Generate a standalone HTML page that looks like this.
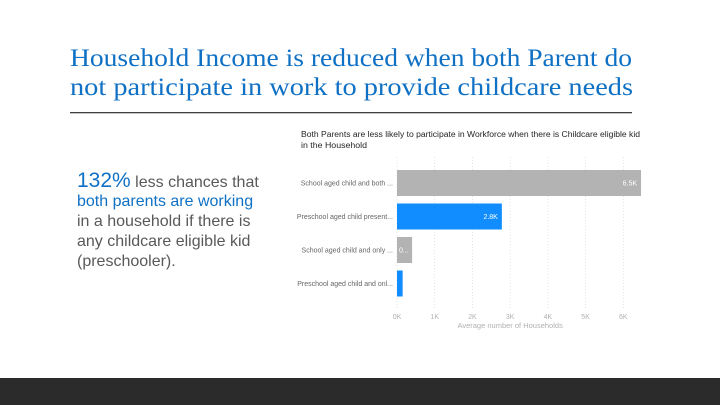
<!DOCTYPE html>
<html><head><meta charset="utf-8"><style>
html,body{margin:0;padding:0;background:#fff}
svg{display:block}
text{font-family:"Liberation Sans",sans-serif}
</style></head><body>
<svg id="s" width="720" height="405" viewBox="0 0 720 405">
<rect x="0" y="0" width="720" height="405" fill="#fff"/>
<g fill="#1071c4" font-size="25">
<text x="70" y="66" textLength="562" lengthAdjust="spacingAndGlyphs" style="font-family:'Liberation Serif',serif">Household Income is reduced when both Parent do</text>
<text x="70" y="95" textLength="563" lengthAdjust="spacingAndGlyphs" style="font-family:'Liberation Serif',serif">not participate in work to provide childcare needs</text>
</g>
<rect x="70" y="112" width="562" height="1.3" fill="#404040"/>
<g font-size="16" fill="#595959">
<text x="77" y="187"><tspan fill="#1071c4" font-size="21">132%</tspan> less chances that</text>
<text x="77" y="206" fill="#1071c4">both parents are working</text>
<text x="77" y="226">in a household if there is</text>
<text x="77" y="246">any childcare eligible kid</text>
<text x="77" y="266">(preschooler).</text>
</g>
<g font-size="8" fill="#252423">
<text x="301" y="137" textLength="339" lengthAdjust="spacingAndGlyphs">Both Parents are less likely to participate in Workforce when there is Childcare eligible kid</text>
<text x="301" y="148" textLength="66" lengthAdjust="spacingAndGlyphs">in the Household</text>
</g>
<g id="chart"></g>
<rect x="0" y="378" width="720" height="27" fill="#2b2b2b"/>
</svg>
<script>
const categories=["School aged child and both ...","Preschool aged child present...","School aged child and only ...","Preschool aged child and onl..."];
const values=[6.47,2.78,0.4,0.15];
const valueLabels=["6.5K","2.8K","0...",""];
const barColors=["#b3b3b3","#118dff","#b3b3b3","#118dff"];
const ticks=[0,1,2,3,4,5,6];
const tickLabels=["0K","1K","2K","3K","4K","5K","6K"];
const NS="http://www.w3.org/2000/svg";
const g=document.getElementById('chart');
const x0=397,x1=623.3,kmax=6;
const xs=v=>x0+(x1-x0)*v/kmax;
const bandTop=170,bandStep=33.5,barH=26;
const ys=i=>bandTop+i*bandStep;
function mk(t,a){const e=document.createElementNS(NS,t);for(const k in a)e.setAttribute(k,a[k]);g.appendChild(e);return e;}
ticks.forEach((t,i)=>{
 const l=mk('line',{x1:xs(t),x2:xs(t),y1:157,y2:310,stroke:'#dcdcdc','stroke-width':0.8,'stroke-dasharray':'1,2'});
 
 
 const tx=mk('text',{x:xs(t),y:319,'font-size':7,fill:'#b0b0b0','text-anchor':'middle'});
 tx.textContent=tickLabels[i];
 
 
});
categories.forEach((c,i)=>{
 const r=mk('rect',{x:x0,y:ys(i),width:xs(values[i])-x0,height:barH,fill:barColors[i]});
 
 
 const lb=mk('text',{x:393,y:ys(i)+barH/2+2.5,'font-size':7,fill:'#666','text-anchor':'end'});
 lb.textContent=c;
 
 
 if(valueLabels[i]){
  const big=xs(values[i])-x0>30;
  const v=mk('text',{x:big?xs(values[i])-4:x0+2,y:ys(i)+barH/2+2.5,'font-size':7,fill:'#fff','text-anchor':big?'end':'start'});
  v.textContent=valueLabels[i];
  
  
 }
});
const at=mk('text',{x:(x0+x1)/2,y:328,'font-size':7.5,fill:'#b0b0b0','text-anchor':'middle'});
at.textContent="Average number of Households";


</script>
</body></html>
